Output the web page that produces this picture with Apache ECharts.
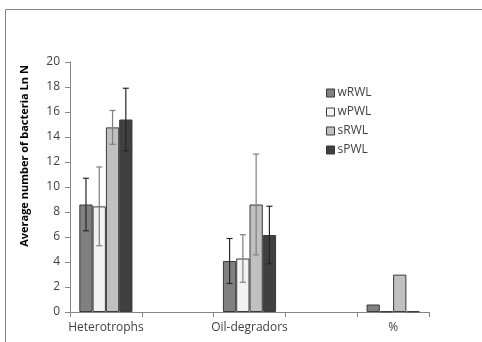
<!DOCTYPE html>
<html><head><meta charset="utf-8">
<script src="https://cdn.jsdelivr.net/npm/echarts@6/dist/echarts.min.js"></script>
<style>html,body{margin:0;padding:0;background:#fff}#c{width:482px;height:342px}</style>
</head><body><div id="c"></div>
<script>
var categories = ['Heterotrophs', '', 'Oil-degradors', '', '%'];
var seriesNames = ['wRWL', 'wPWL', 'sRWL', 'sPWL'];
var wRWL = [8.6, null, 4.08, null, 0.6];
var wPWL = [8.45, null, 4.28, null, 0.05];
var sRWL = [14.77, null, 8.6, null, 2.99];
var sPWL = [15.4, null, 6.16, null, 0.05];
var wRWLErr = [2.1, null, 1.8, null, null];
var wPWLErr = [3.15, null, 1.9, null, null];
var sRWLErr = [1.35, null, 4.03, null, null];
var sPWLErr = [2.5, null, 2.3, null, null];
var yTicks = [0, 2, 4, 6, 8, 10, 12, 14, 16, 18, 20];

var values = [wRWL, wPWL, sRWL, sPWL];
var errs = [wRWLErr, wPWLErr, sRWLErr, sPWLErr];
var colors = ['#808080', '#f2f2f2', '#c0c0c0', '#404040'];
var errColors = ['#262626', '#7f7f7f', '#7f7f7f', '#262626'];
var catGap = 0.26;

var chart = echarts.init(document.getElementById('c'), null, {renderer: 'canvas'});
var series = [];
seriesNames.forEach(function (n, i) {
  series.push({
    name: n, type: 'bar', data: values[i], barGap: 0, barCategoryGap: (catGap * 100) + '%',
    itemStyle: {color: colors[i], borderColor: '#3a3a3a', borderWidth: 1},
    z: 2
  });
});
seriesNames.forEach(function (n, i) {
  var d = [];
  values[i].forEach(function (v, k) {
    if (v != null && errs[i][k] != null) d.push([k, v - errs[i][k], v + errs[i][k]]);
  });
  series.push({
    type: 'custom', name: n + '_err', data: d, z: 5, silent: true,
    renderItem: function (params, api) {
      var k = api.value(0);
      var lo = api.coord([k, api.value(1)]);
      var hi = api.coord([k, api.value(2)]);
      var band = api.size([1, 0])[0];
      var bw = band * (1 - catGap) / 4;
      var x = lo[0] - 2 * bw + bw * (i + 0.5);
      var cap = 3;
      var st = {stroke: errColors[i], lineWidth: 1.2};
      return {type: 'group', children: [
        {type: 'line', shape: {x1: x, y1: lo[1], x2: x, y2: hi[1]}, style: st},
        {type: 'line', shape: {x1: x - cap, y1: lo[1], x2: x + cap, y2: lo[1]}, style: st},
        {type: 'line', shape: {x1: x - cap, y1: hi[1], x2: x + cap, y2: hi[1]}, style: st}
      ]};
    }
  });
});

chart.setOption({
  animation: false,
  backgroundColor: '#fff',
  textStyle: {fontFamily: 'Open Sans, Liberation Sans, sans-serif'},
  graphic: [
    {type: 'polyline', shape: {points: [[5.5, 342], [5.5, 9.5], [482, 9.5]]}, style: {stroke: '#868686', fill: null, lineWidth: 1}}
  ],
  grid: {left: 70, right: 53, top: 62, bottom: 30, containLabel: false},
  legend: {
    orient: 'vertical', left: 321, top: 82, itemWidth: 8, itemHeight: 8, itemGap: 7,
    data: seriesNames,
    icon: 'rect',
    itemStyle: {borderColor: '#3a3a3a', borderWidth: 1},
    textStyle: {fontSize: 12, color: '#404040', fontFamily: 'Open Sans, sans-serif', padding: [0, 0, 0, -2]}
  },
  xAxis: {
    type: 'category', data: categories,
    axisLine: {lineStyle: {color: '#868686'}},
    axisTick: {show: true, length: 5, lineStyle: {color: '#868686'}},
    axisLabel: {color: '#404040', fontSize: 12, interval: 0, margin: 10}
  },
  yAxis: {
    type: 'value', min: yTicks[0], max: yTicks[yTicks.length - 1], interval: 2,
    name: 'Average number of bacteria Ln N', nameLocation: 'middle', nameGap: 40,
    nameTextStyle: {fontWeight: 'bold', fontSize: 11, color: '#000', padding: [0, 0, 0, 62]},
    axisLine: {show: true, lineStyle: {color: '#868686'}},
    axisTick: {show: true, length: 5, lineStyle: {color: '#868686'}},
    axisLabel: {color: '#404040', fontSize: 12, margin: 10},
    splitLine: {show: false}
  },
  series: series
});
</script></body></html>
